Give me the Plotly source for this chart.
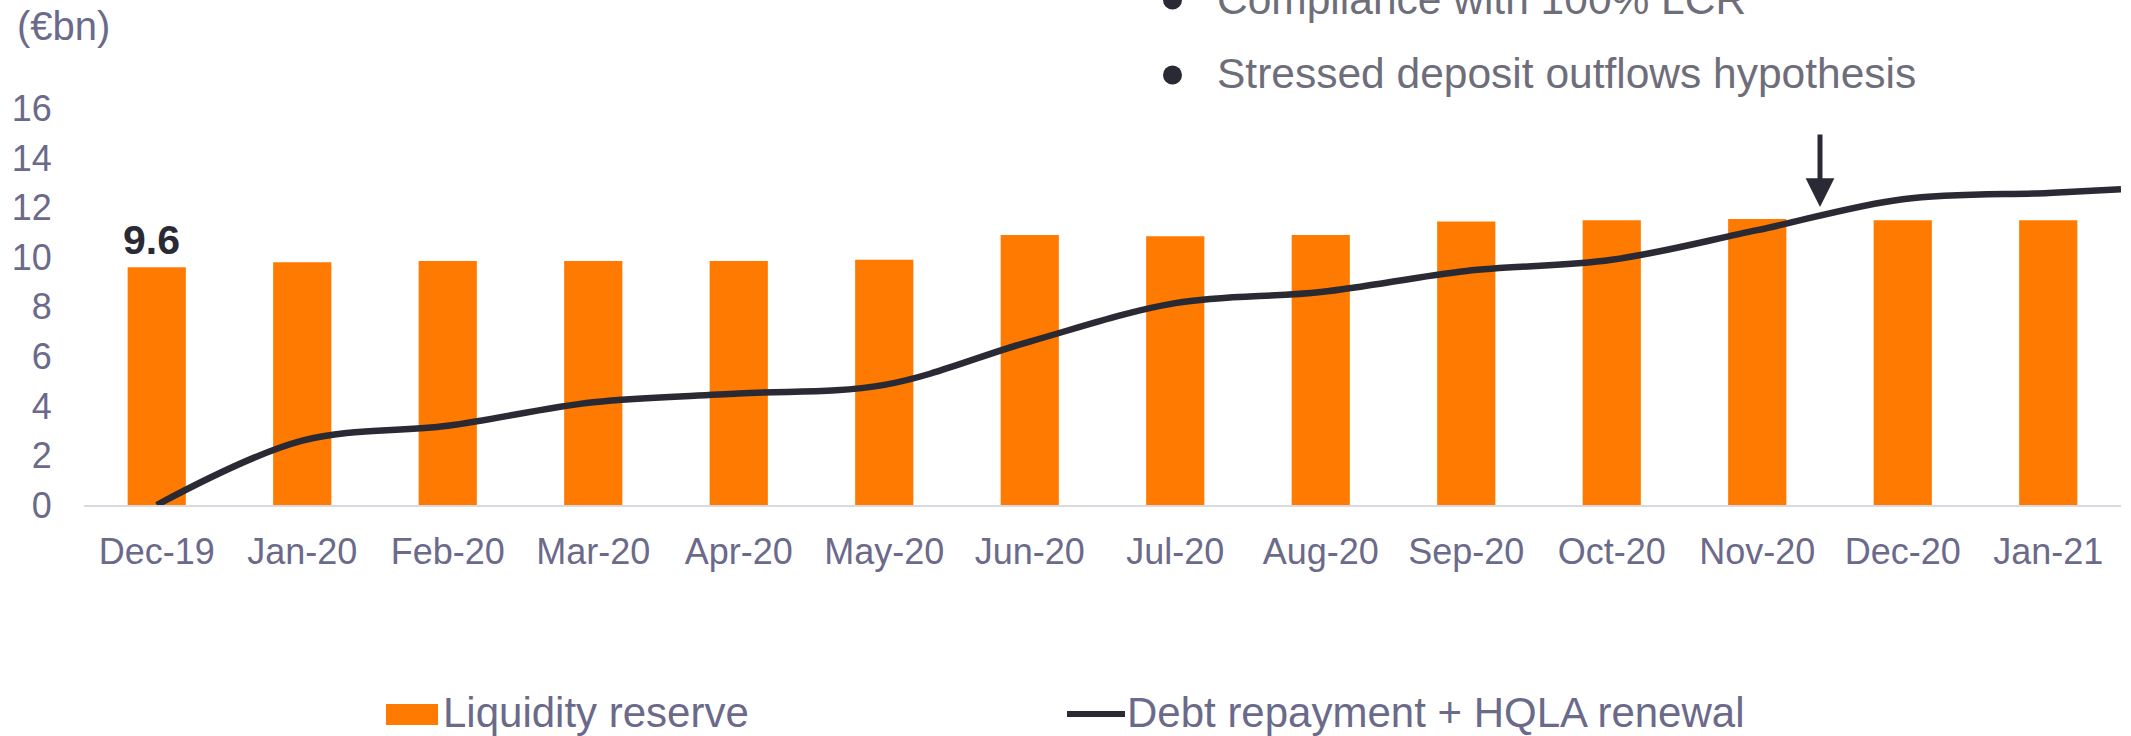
import plotly.graph_objects as go

# ---------------- data ----------------
months = ["Dec-19", "Jan-20", "Feb-20", "Mar-20", "Apr-20", "May-20", "Jun-20",
          "Jul-20", "Aug-20", "Sep-20", "Oct-20", "Nov-20", "Dec-20", "Jan-21"]
liquidity_reserve = [9.6, 9.8, 9.85, 9.85, 9.85, 9.9, 10.9, 10.85, 10.9, 11.45,
                     11.5, 11.55, 11.5, 11.5]
# line positions (in month index units) and values
debt_pos = [0, 1, 2, 3, 4, 5, 6, 7, 8, 9, 10, 11, 12, 13, 13.5]
debt_repayment = [0, 2.6, 3.2, 4.15, 4.5, 4.85, 6.6, 8.15, 8.6, 9.45, 9.9,
                  11.1, 12.35, 12.6, 12.75]
y_ticks = [0, 2, 4, 6, 8, 10, 12, 14, 16]
bullets = ["Compliance with 100% LCR", "Stressed deposit outflows hypothesis"]
legend_names = ["Liquidity reserve", "Debt repayment + HQLA renewal"]

# ---------------- layout geometry (pixels) ----------------
W, H = 2131, 736
L, R, T, B = 84, 10, 84, 231
PW, PH = W - L - R, H - T - B


def X(px):
    return (px - L) / PW


def Y(py):
    return (H - B - py) / PH


FONT = "Liberation Sans, Arial, sans-serif"
TXT = "#6B6A8A"
DARK = "#2A2A35"
ORANGE = "#FF7A00"

idx = list(range(len(months)))
fig = go.Figure()
fig.add_trace(go.Bar(
    x=idx, y=liquidity_reserve, width=0.4, marker_color=ORANGE,
    marker_line_width=0, showlegend=False,
))
fig.add_trace(go.Scatter(
    x=debt_pos, y=debt_repayment, mode="lines",
    line=dict(color=DARK, width=6.5, shape="spline", smoothing=1.0),
    cliponaxis=False, showlegend=False,
))

annotations = [
    dict(text="(€bn)", x=X(15), y=Y(26), xref="paper", yref="paper",
         xanchor="left", yanchor="middle", showarrow=False,
         font=dict(size=40, color=TXT, family=FONT)),
    # data label of the first bar
    dict(text=f"<b>{liquidity_reserve[0]:g}</b>", x=idx[0], y=liquidity_reserve[0],
         xref="x", yref="y", xanchor="center", yanchor="bottom", xshift=-5, yshift=2,
         showarrow=False, font=dict(size=41, color=DARK, family=FONT)),
]
shapes = []
for k, t in enumerate(bullets):
    cy = 75 * k - 1
    shapes.append(dict(type="circle", xref="paper", yref="paper",
                       x0=X(1163), x1=X(1182), y0=Y(cy + 1 + 9.5), y1=Y(cy + 1 - 9.5),
                       fillcolor=DARK, line_width=0))
    annotations.append(dict(text=t, x=X(1215), y=Y(cy), xref="paper", yref="paper",
                            xanchor="left", yanchor="middle", showarrow=False,
                            font=dict(size=42.5, color="#6E6E7A", family=FONT)))
# arrow
annotations.append(dict(x=X(1820), y=Y(207), xref="paper", yref="paper", text="",
                        showarrow=True, ax=0, ay=-74, arrowhead=2, arrowsize=1.15,
                        arrowwidth=5, arrowcolor=DARK, standoff=0))
# legend texts
annotations.append(dict(text=legend_names[0], x=X(441), y=Y(712), xref="paper", yref="paper",
                        xanchor="left", yanchor="middle", showarrow=False,
                        font=dict(size=42, color=TXT, family=FONT)))
annotations.append(dict(text=legend_names[1], x=X(1125), y=Y(712), xref="paper", yref="paper",
                        xanchor="left", yanchor="middle", showarrow=False,
                        font=dict(size=42, color=TXT, family=FONT)))

shapes += [
    dict(type="rect", xref="paper", yref="paper", x0=X(386), x1=X(438), y0=Y(725), y1=Y(704),
         fillcolor=ORANGE, line_width=0),
    dict(type="line", xref="paper", yref="paper", x0=X(1067), x1=X(1125), y0=Y(714), y1=Y(714),
         line=dict(color=DARK, width=6)),
]

fig.update_layout(
    width=W, height=H, margin=dict(l=L, r=R, t=T, b=B),
    paper_bgcolor="white", plot_bgcolor="white",
    font=dict(family=FONT, color=TXT, size=36),
    bargap=0.6, showlegend=False,
    annotations=annotations, shapes=shapes,
    xaxis=dict(range=[-0.5, 13.5], tickvals=idx, ticktext=months, showgrid=False,
               zeroline=False, showline=True, linecolor="#D9D9E1", linewidth=2,
               ticks="outside", ticklen=14, tickcolor="rgba(0,0,0,0)",
               tickfont=dict(size=36, color=TXT, family=FONT)),
    yaxis=dict(range=[0, 17], tickvals=y_ticks, showgrid=False, zeroline=False,
               showline=False, ticks="outside", ticklen=24, tickcolor="rgba(0,0,0,0)",
               tickfont=dict(size=36, color=TXT, family=FONT)),
)

fig.write_html("out.html")
